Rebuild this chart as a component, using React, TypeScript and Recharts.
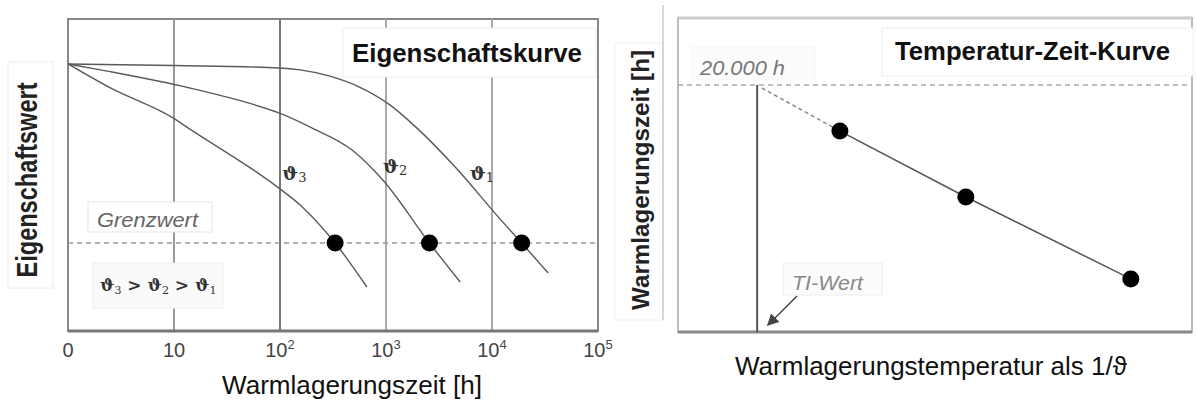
import React from 'react';
import { ComposedChart, Line, Scatter, XAxis, YAxis, ReferenceLine, ReferenceArea } from 'recharts';

// ---------- Left chart: Eigenschaftskurve (x = decade index of ageing time) ----------
const decadeTicks = [0, 1, 2, 3, 4, 5];
const decadeBase = ['0', '10', '10', '10', '10', '10'];
const decadeExp = ['', '', '2', '3', '4', '5'];

const curveTheta1 = [
  { x: 0, y: 85.6 }, { x: 1.0, y: 85.1 }, { x: 1.99, y: 84.3 }, { x: 2.19, y: 83.7 },
  { x: 2.47, y: 81.7 }, { x: 2.75, y: 78.2 }, { x: 3.04, y: 72.4 }, { x: 3.29, y: 65.1 },
  { x: 3.67, y: 51.9 }, { x: 4.05, y: 36.9 }, { x: 4.28, y: 28.2 }, { x: 4.53, y: 18.6 },
];
const curveTheta2 = [
  { x: 0, y: 85.6 }, { x: 0.37, y: 83.3 }, { x: 1.15, y: 77.9 }, { x: 1.70, y: 73.1 },
  { x: 1.99, y: 69.9 }, { x: 2.3, y: 65.1 }, { x: 2.68, y: 58.0 }, { x: 2.97, y: 48.4 },
  { x: 3.41, y: 28.2 }, { x: 3.70, y: 15.7 },
];
const curveTheta3 = [
  { x: 0, y: 85.6 }, { x: 0.40, y: 77.9 }, { x: 0.99, y: 68.3 }, { x: 1.15, y: 64.7 },
  { x: 1.99, y: 45.8 }, { x: 2.19, y: 40.4 }, { x: 2.52, y: 28.2 }, { x: 2.82, y: 14.1 },
];
const limitValue = 28.2;
const failurePoints = [{ x: 2.52, y: 28.2 }, { x: 3.41, y: 28.2 }, { x: 4.28, y: 28.2 }];
const curveLabels = [
  { x: 2.02, y: 48.4, sub: '3' },
  { x: 2.97, y: 50.6, sub: '2' },
  { x: 3.79, y: 48.4, sub: '1' },
];
const gridDecades = [1, 2, 3, 4];
const gridColors = ['#9a9a9a', '#777', '#aaa', '#aaa'];

// ---------- Right chart: Temperatur-Zeit-Kurve ----------
const inverseTemp = [3.15, 5.6, 8.81];
const logLifetime = [6.4, 4.3, 1.69];
const arrheniusPoints = inverseTemp.map((x, i) => ({ x, y: logLifetime[i] }));
const extrapolation = [{ x: 1.63, y: 7.77 }, { x: 3.15, y: 6.4 }];
const tiValueX = 1.54;
const lifetime20000 = 7.87;

const SANS = 'Liberation Sans, Arial, sans-serif';
const SERIF = 'DejaVu Serif, serif';

const DecadeTick = (props: any) => {
  const { x, y, payload } = props;
  const i = decadeTicks.indexOf(payload.value);
  return (
    <text x={x} y={y} dy={18} textAnchor="middle" fontFamily={SANS} fontSize={20} fill="#444">
      {decadeBase[i]}
      {decadeExp[i] ? <tspan dy={-8} fontSize={13}>{decadeExp[i]}</tspan> : null}
    </text>
  );
};

const Dot = (p: any) => <circle cx={p.cx} cy={p.cy} r={8.5} fill="#000" />;
const ThetaLabel = (p: any) => (
  <text x={p.cx} y={p.cy} fontFamily={SERIF} fontWeight="bold" fontSize={19} fill="#333">
    ϑ<tspan fontSize={13} fontWeight="normal" dy={2}>{p.payload.sub}</tspan>
  </text>
);

export default function App() {
  return (
    <div style={{ position: 'absolute', left: 0, top: 0, width: 1197, height: 401, background: '#fff', overflow: 'hidden' }}>
      <div style={{ position: 'absolute', left: 0, top: 0 }}>
        <ComposedChart width={620} height={401} margin={{ top: 19, right: 22, bottom: 30, left: 68 }}>
          <XAxis type="number" dataKey="x" domain={[0, 5]} ticks={decadeTicks} height={40}
            axisLine={false} tickLine={false} tick={<DecadeTick />} allowDataOverflow interval={0} />
          <YAxis type="number" dataKey="y" domain={[0, 100]} hide allowDataOverflow />
          {gridDecades.map((d, i) => (
            <ReferenceLine key={d} x={d} stroke={gridColors[i]} strokeWidth={2} />
          ))}
          <ReferenceArea x1={0} x2={5} y1={0} y2={100} fill="#fff" fillOpacity={0} stroke="#888" strokeWidth={2} />
          <ReferenceLine y={0} stroke="#777" strokeWidth={3} />
          <ReferenceLine y={limitValue} stroke="#999" strokeWidth={1.5} strokeDasharray="5 4" />
          <Line data={curveTheta1} dataKey="y" type="monotone" stroke="#5a5a5a" strokeWidth={1.4} dot={false} isAnimationActive={false} />
          <Line data={curveTheta2} dataKey="y" type="monotone" stroke="#5a5a5a" strokeWidth={1.4} dot={false} isAnimationActive={false} />
          <Line data={curveTheta3} dataKey="y" type="monotone" stroke="#5a5a5a" strokeWidth={1.4} dot={false} isAnimationActive={false} />
          <Scatter data={failurePoints} dataKey="y" shape={<Dot />} isAnimationActive={false} />
          <Scatter data={curveLabels} dataKey="y" shape={<ThetaLabel />} isAnimationActive={false} />
        </ComposedChart>
      </div>
      <div style={{ position: 'absolute', left: 600, top: 0 }}>
        <ComposedChart width={597} height={401} margin={{ top: 18, right: 5, bottom: 69, left: 78 }}>
          <XAxis type="number" dataKey="x" domain={[0, 10]} hide allowDataOverflow />
          <YAxis type="number" dataKey="y" domain={[0, 10]} hide allowDataOverflow />
          <ReferenceArea x1={0} x2={10} y1={0} y2={10} fill="#fff" fillOpacity={0} stroke="#bbb" strokeWidth={2} />
          <ReferenceLine y={10} stroke="#ccc" strokeWidth={3} />
          <ReferenceLine y={0} stroke="#888" strokeWidth={3} />
          <ReferenceLine y={lifetime20000} stroke="#aaa" strokeWidth={1.5} strokeDasharray="5 4" />
          <ReferenceLine segment={[{ x: tiValueX, y: 0 }, { x: tiValueX, y: lifetime20000 }]} stroke="#555" strokeWidth={2} />
          <Line data={extrapolation} dataKey="y" type="linear" stroke="#888" strokeWidth={1.5} strokeDasharray="4 3" dot={false} isAnimationActive={false} />
          <Line data={arrheniusPoints} dataKey="y" type="linear" stroke="#555" strokeWidth={1.5} dot={false} isAnimationActive={false} />
          <Scatter data={arrheniusPoints} dataKey="y" shape={<Dot />} isAnimationActive={false} />
        </ComposedChart>
      </div>
      <svg width={1197} height={401} style={{ position: 'absolute', left: 0, top: 0, pointerEvents: 'none' }}>
        <defs>
          <marker id="arr" markerWidth="8" markerHeight="8" refX="6" refY="4" orient="auto">
            <path d="M0,0 L8,4 L0,8 z" fill="#444" />
          </marker>
        </defs>
        {/* left y label */}
        <rect x={8} y={62} width={45} height={226} fill="none" stroke="#ececec" />
        <text x={37} y={180} transform="rotate(-90 37 180)" textAnchor="middle" fontFamily={SANS} fontWeight="bold"
          fontSize={30} textLength={195} lengthAdjust="spacingAndGlyphs" fill="#222">Eigenschaftswert</text>
        {/* left title */}
        <rect x={343} y={28} width={253} height={49} fill="#fff" stroke="#eee" />
        <text x={352} y={62} fontFamily={SANS} fontWeight="bold" fontSize={26} textLength={230} lengthAdjust="spacingAndGlyphs" fill="#111">Eigenschaftskurve</text>
        {/* Grenzwert */}
        <rect x={88} y={202} width={124} height={30} fill="#fff" stroke="#e6e6e6" />
        <text x={97} y={227} fontFamily={SANS} fontStyle="italic" fontSize={20} textLength={101} lengthAdjust="spacingAndGlyphs" fill="#666">Grenzwert</text>
        {/* inequality */}
        <rect x={93} y={263} width={130} height={45} fill="#fafafa" stroke="#eee" />
        <text x={100} y={291} fontFamily={SERIF} fontWeight="bold" fontSize={17} fill="#333">
          ϑ<tspan fontSize={11} fontWeight="normal" dy={3}>3</tspan><tspan dy={-3}> &gt; ϑ</tspan><tspan fontSize={11} fontWeight="normal" dy={3}>2</tspan><tspan dy={-3}> &gt; ϑ</tspan><tspan fontSize={11} fontWeight="normal" dy={3}>1</tspan>
        </text>
        {/* left x title */}
        <text x={222} y={394} fontFamily={SANS} fontSize={26} textLength={260} lengthAdjust="spacingAndGlyphs" fill="#111">Warmlagerungszeit [h]</text>

        {/* right y label */}
        <rect x={615} y={43} width={48} height={277} fill="none" stroke="#f0f0f0" />
        <line x1={663} y1={5} x2={663} y2={320} stroke="#ccc" strokeWidth={1.5} />
        <text x={649} y={180} transform="rotate(-90 649 180)" textAnchor="middle" fontFamily={SANS} fontWeight="bold"
          fontSize={24} textLength={260} lengthAdjust="spacingAndGlyphs" fill="#222">Warmlagerungszeit [h]</text>
        {/* right title */}
        <rect x={882} y={28} width={311} height={48} fill="#fff" stroke="#eee" />
        <text x={895} y={60} fontFamily={SANS} fontWeight="bold" fontSize={25} textLength={275} lengthAdjust="spacingAndGlyphs" fill="#111">Temperatur-Zeit-Kurve</text>
        {/* 20.000 h */}
        <rect x={692} y={47} width={123} height={33} fill="#fcfcfc" stroke="#eee" strokeDasharray="2 2" />
        <text x={700} y={75} fontFamily={SANS} fontStyle="italic" fontSize={21} textLength={85} lengthAdjust="spacingAndGlyphs" fill="#777">20.000 h</text>
        {/* TI-Wert */}
        <rect x={783} y={263} width={99} height={32} fill="#fcfcfc" stroke="#eee" />
        <text x={792} y={290} fontFamily={SANS} fontStyle="italic" fontSize={21} textLength={71} lengthAdjust="spacingAndGlyphs" fill="#888">TI-Wert</text>
        <line x1={797} y1={296} x2={769} y2={324} stroke="#444" strokeWidth={1.5} markerEnd="url(#arr)" />
        {/* right x title */}
        <text x={735} y={375} fontFamily={SANS} fontSize={26} textLength={392} lengthAdjust="spacingAndGlyphs" fill="#111">Warmlagerungstemperatur als 1/ϑ</text>
      </svg>
    </div>
  );
}
